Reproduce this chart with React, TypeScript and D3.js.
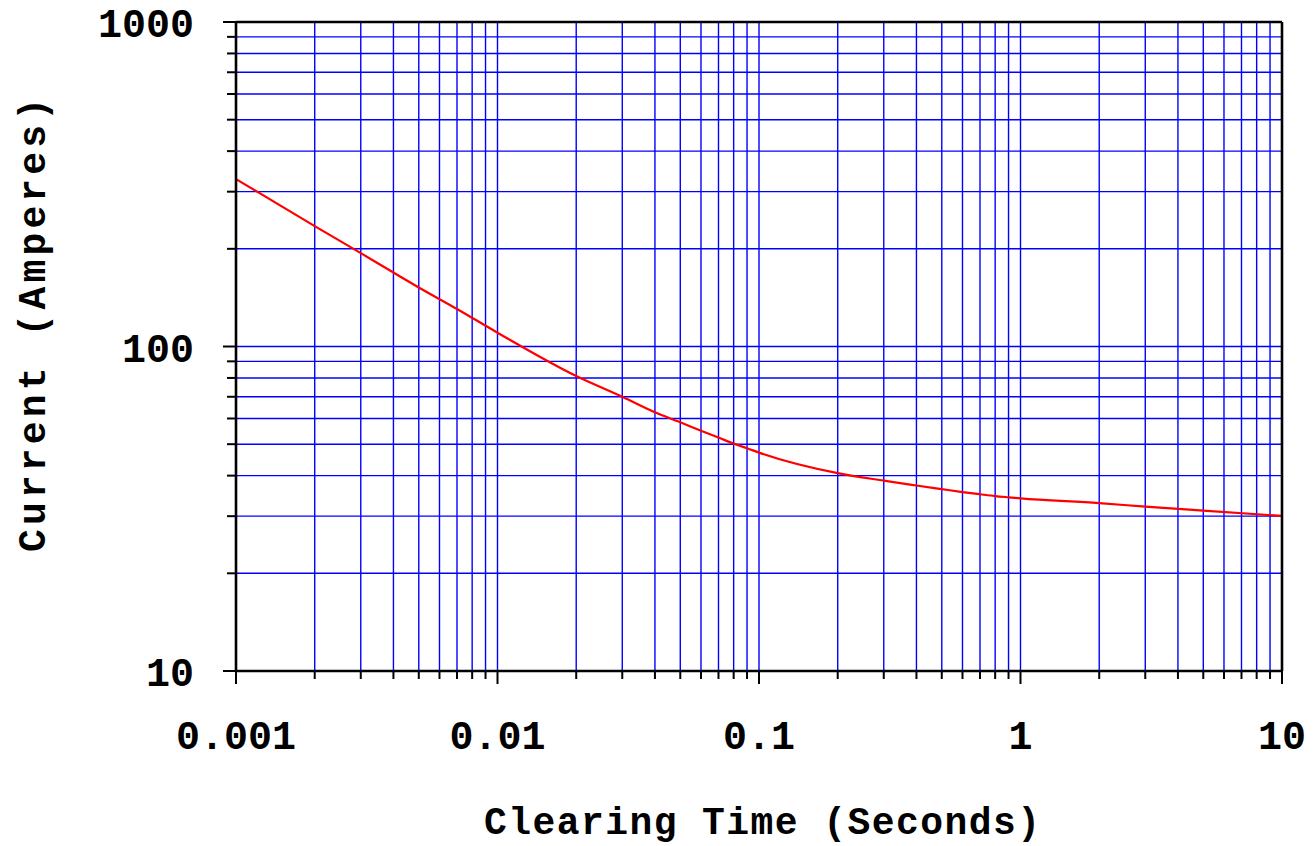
import * as d3 from 'd3'

// clearing time (s) vs current (A)
const clearingTime = [
  0.001, 0.002, 0.003, 0.004, 0.005, 0.007, 0.01, 0.02, 0.03, 0.04, 0.05, 0.06, 0.07, 0.08, 0.09,
  0.1, 0.2, 0.3, 0.4, 0.5, 0.6, 0.7, 0.8, 0.9, 1, 2, 3, 5, 10
]
const current = [
  328, 235, 194, 169, 152, 130.5, 110.3, 81.1, 70, 62.7, 58.4, 55, 52.4, 50.2, 48.6,
  47.1, 40.7, 38.6, 37.3, 36.35, 35.6, 35.05, 34.6, 34.3, 34.05, 32.9, 32.1, 31.2, 30.05
]
const xMajor = [0.001, 0.01, 0.1, 1, 10]
const xLabels = ['0.001', '0.01', '0.1', '1', '10']
const yMajor = [10, 100, 1000]
const yLabels = ['10', '100', '1000']

const W = 1313
const H = 846
const left = 236
const right = 1282
const top = 22
const bottom = 671
const font = '"Liberation Mono", "Courier New", monospace'

// every 1..9 multiple inside the decades
function logSteps(lo: number, hi: number) {
  const out: number[] = []
  for (let p = lo; p < hi; p *= 10) {
    for (let k = 1; k < 10; k++) out.push(+(p * k).toPrecision(3))
  }
  out.push(hi)
  return out
}

export default function App() {
  const x = d3.scaleLog().domain([0.001, 10]).range([left, right])
  const y = d3.scaleLog().domain([10, 1000]).range([bottom, top])

  const xAll = logSteps(0.001, 10)
  const yAll = logSteps(10, 1000)
  const isMajor = (v: number) => Math.abs(Math.log10(v) - Math.round(Math.log10(v))) < 1e-6

  const pts = clearingTime.map((t, i) => [t, current[i]] as [number, number])
  const line = d3.line<[number, number]>()
    .x(d => x(d[0]))
    .y(d => y(d[1]))
    .curve(d3.curveMonotoneX)

  return (
    <svg width={W} height={H} style={{ position: 'absolute', left: 0, top: 0, background: '#fff' }}>
      {/* grid */}
      <g stroke="#0000ff" strokeWidth={1.4}>
        {xAll.filter(v => v > 0.001 && v < 10).map(v => (
          <line key={'gx' + v} x1={x(v)} x2={x(v)} y1={top} y2={bottom} />
        ))}
        {yAll.filter(v => v > 10 && v < 1000).map(v => (
          <line key={'gy' + v} x1={left} x2={right} y1={y(v)} y2={y(v)} />
        ))}
      </g>

      {/* curve */}
      <path d={line(pts) || ''} fill="none" stroke="#ff0000" strokeWidth={2.2} />

      {/* ticks */}
      <g stroke="#000" strokeWidth={2}>
        {xAll.map(v => (
          <line key={'tx' + v} x1={x(v)} x2={x(v)} y1={bottom} y2={bottom + (isMajor(v) ? 13 : 8)} />
        ))}
        {yAll.map(v => (
          <line key={'ty' + v} x1={left} x2={left - (isMajor(v) ? 13 : 9)} y1={y(v)} y2={y(v)} />
        ))}
      </g>

      {/* frame */}
      <g stroke="#000" strokeWidth={2.6} fill="none">
        <line x1={left} x2={left} y1={top} y2={bottom} />
        <line x1={right} x2={right} y1={top} y2={bottom} />
        <line x1={left} x2={right} y1={top} y2={top} />
        <line x1={left} x2={right} y1={bottom} y2={bottom} />
      </g>

      {/* tick labels */}
      <g fontFamily={font} fontWeight="bold" fontSize={40} fill="#000">
        {yMajor.map((v, i) => (
          <text key={'ly' + v} x={194} y={y(v) + 15} textAnchor="end">{yLabels[i]}</text>
        ))}
        {xMajor.map((v, i) => (
          <text key={'lx' + v} x={x(v)} y={749} textAnchor="middle">{xLabels[i]}</text>
        ))}
      </g>

      {/* axis titles */}
      <text
        x={484} y={834} fontFamily={font} fontWeight="bold" fontSize={38}
        textLength={556} lengthAdjust="spacing"
      >
        Clearing Time (Seconds)
      </text>
      <text
        transform="translate(45,552) rotate(-90)" x={0} y={0}
        fontFamily={font} fontWeight="bold" fontSize={38}
        textLength={454} lengthAdjust="spacing"
      >
        Current (Amperes)
      </text>
    </svg>
  )
}
